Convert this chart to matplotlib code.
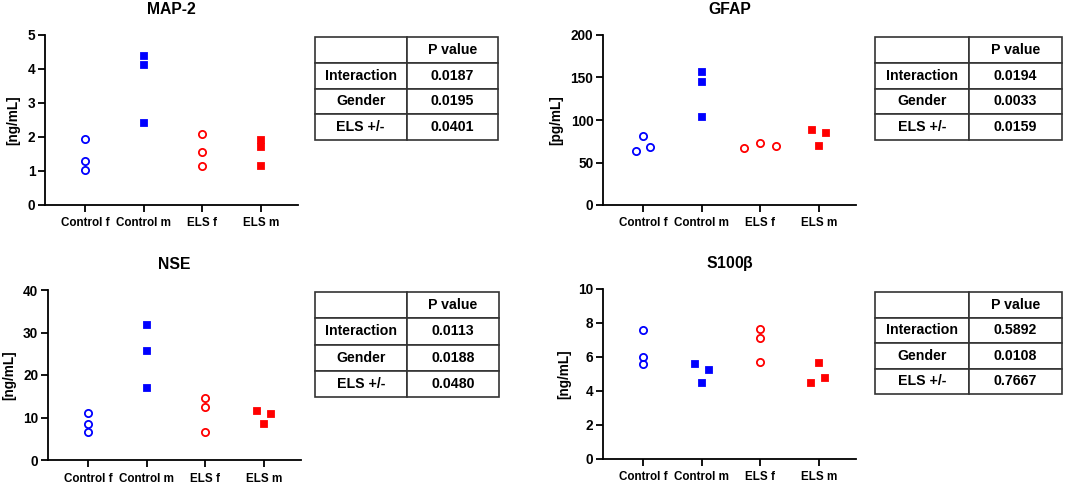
import numpy as np
import matplotlib
matplotlib.use('Agg')
import matplotlib.pyplot as plt

plt.rcParams['font.family'] = ['Liberation Sans', 'DejaVu Sans']
plt.rcParams['font.weight'] = 'bold'

groups = ['Control f', 'Control m', 'ELS f', 'ELS m']
BLUE = '#0000ff'
RED = '#ff0000'

# values per group (3 animals each)
map2_vals = [[1.93, 1.29, 1.02], [4.38, 4.11, 2.42], [2.10, 1.55, 1.14], [1.90, 1.71, 1.16]]
map2_dx = [[0, 0, 0], [0, 0, 0], [0, 0, 0], [0, 0, 0]]

gfap_vals = [[63.8, 81.0, 68.0], [156.6, 144.4, 103.0], [67.3, 72.4, 69.3], [87.7, 84.9, 69.3]]
gfap_dx = [[-0.12, 0, 0.12], [0, 0, 0], [-0.27, 0, 0.27], [-0.12, 0.12, 0]]

nse_vals = [[11.1, 8.5, 6.7], [31.8, 25.7, 16.9], [14.5, 12.5, 6.7], [11.6, 10.9, 8.5]]
nse_dx = [[0, 0, 0], [0, 0, 0], [0, 0, 0], [-0.12, 0.12, 0]]

s100_vals = [[7.59, 6.02, 5.57], [5.57, 5.22, 4.45], [7.63, 7.10, 5.73], [5.65, 4.78, 4.45]]
s100_dx = [[0, 0, 0], [-0.12, 0.12, 0], [0, 0, 0], [0, 0.11, -0.13]]

row_labels = ['Interaction', 'Gender', 'ELS +/-']
map2_p = ['0.0187', '0.0195', '0.0401']
gfap_p = ['0.0194', '0.0033', '0.0159']
nse_p = ['0.0113', '0.0188', '0.0480']
s100_p = ['0.5892', '0.0108', '0.7667']

W, H = 1065, 483
fig = plt.figure(figsize=(W / 100, H / 100), dpi=100)


def px_axes(x0, y0, x1, y1):
    # pixel box (top-left origin) -> figure axes
    return fig.add_axes([x0 / W, 1 - y1 / H, (x1 - x0) / W, (y1 - y0) / H])


def scatter_panel(box, title, ylabel, vals, dx, ymax, ystep):
    ax = px_axes(*box)
    styles = [(BLUE, 'o', 'none'), (BLUE, 's', BLUE), (RED, 'o', 'none'), (RED, 's', RED)]
    for i, (col, mk, fc) in enumerate(styles):
        xs = i + np.array(dx[i])
        ax.plot(xs, vals[i], linestyle='none', marker=mk, color=col,
                markerfacecolor=fc, markeredgecolor=col,
                markersize=5.2 if mk == 'o' else 5.0, markeredgewidth=1.3, clip_on=False)
    ax.set_xlim(-0.68, 3.63)
    ax.set_ylim(0, ymax)
    ax.set_yticks(np.arange(0, ymax + ystep / 2, ystep))
    ax.set_xticks(range(4))
    ax.set_xticklabels(groups, fontsize=8.4, fontweight='bold')
    for lab in ax.get_yticklabels():
        lab.set_fontsize(9.8)
        lab.set_fontweight('bold')
    ax.spines['top'].set_visible(False)
    ax.spines['right'].set_visible(False)
    for s in ('left', 'bottom'):
        ax.spines[s].set_linewidth(1.3)
    ax.tick_params(axis='both', length=5, width=1.3, pad=2)
    ax.tick_params(axis='x', pad=4)
    ax.set_title(title, fontsize=11.3, fontweight='bold', pad=15)
    ax.set_ylabel(ylabel, fontsize=9.8, fontweight='bold', labelpad=5)
    return ax


def p_table(box, pvals):
    ax = px_axes(*box)
    ax.set_axis_off()
    cells = [['', 'P value']] + [[r, p] for r, p in zip(row_labels, pvals)]
    tb = ax.table(cellText=cells, cellLoc='center', bbox=[0, 0, 1, 1])
    tb.auto_set_font_size(False)
    for (r, c), cell in tb.get_celld().items():
        cell.set_linewidth(1.2)
        cell.set_edgecolor('#333333')
        cell.get_text().set_fontsize(10.2)
        cell.get_text().set_fontweight('bold')
    return tb


scatter_panel((45, 35, 298, 205), 'MAP-2', '[ng/mL]', map2_vals, map2_dx, 5, 1)
scatter_panel((603, 35, 856, 205), 'GFAP', '[pg/mL]', gfap_vals, gfap_dx, 200, 50)
scatter_panel((48, 290, 301, 460), 'NSE', '[ng/mL]', nse_vals, nse_dx, 40, 10)
scatter_panel((603, 289, 856, 459), 'S100$\\mathregular{\\beta}$', '[ng/mL]', s100_vals, s100_dx, 10, 2)

p_table((315, 37, 498, 140), map2_p)
p_table((875, 37, 1062, 140), gfap_p)
p_table((315, 292, 499, 397), nse_p)
p_table((875, 292, 1062, 394), s100_p)

fig.savefig('out.png', dpi=100)
